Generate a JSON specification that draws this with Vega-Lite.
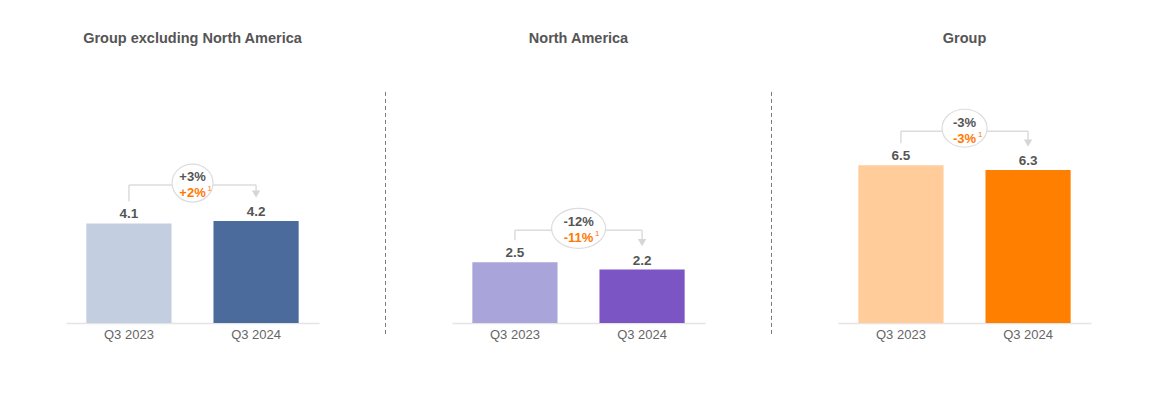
{
  "$schema": "https://vega.github.io/schema/vega-lite/v6.json",
  "padding": {"left": 66, "top": 30, "right": 5, "bottom": 5},
  "background": "white",
  "datasets": {
    "bars": [
      {"panel": "Group excluding North America", "period": "Q3 2023", "value": 4.1},
      {"panel": "Group excluding North America", "period": "Q3 2024", "value": 4.2, "change": "+3%", "changeAdj": "+2%"},
      {"panel": "North America", "period": "Q3 2023", "value": 2.5},
      {"panel": "North America", "period": "Q3 2024", "value": 2.2, "change": "-12%", "changeAdj": "-11%"},
      {"panel": "Group", "period": "Q3 2023", "value": 6.5},
      {"panel": "Group", "period": "Q3 2024", "value": 6.3, "change": "-3%", "changeAdj": "-3%"}
    ]
  },
  "spacing": 65.5,
  "hconcat": [
    {
      "width": 253, "height": 267,
      "title": "Group excluding North America",
      "data": {"name": "bars"},
      "transform": [
        {"filter": "datum.panel === 'Group excluding North America'"},
        {"joinaggregate": [{"op": "max", "field": "value", "as": "top"}]}
      ],
      "encoding": {
        "x": {"field": "period", "type": "nominal", "sort": null, "scale": {"paddingInner": 0.33, "paddingOuter": 0.16}, "axis": {"title": null}}
      },
      "layer": [
        {"transform": [{"filter": "datum.period === 'Q3 2023'"}],
         "mark": {"type": "rule", "color": "#dcdcdc", "strokeWidth": 1.5, "yOffset": -22, "y2Offset": -36},
         "encoding": {"y": {"field": "value", "type": "quantitative", "scale": {"domain": [0, 11]}, "axis": null}, "y2": {"field": "top"}}},
        {"transform": [{"filter": "datum.period === 'Q3 2024'"}],
         "mark": {"type": "rule", "color": "#dcdcdc", "strokeWidth": 1.5, "yOffset": -29, "y2Offset": -36},
         "encoding": {"y": {"field": "value", "type": "quantitative", "scale": {"domain": [0, 11]}, "axis": null}, "y2": {"field": "top"}}},
        {"mark": {"type": "line", "color": "#dcdcdc", "strokeWidth": 1.5, "yOffset": -36},
         "encoding": {"y": {"field": "top", "type": "quantitative", "scale": {"domain": [0, 11]}, "axis": null}}},
        {"transform": [{"filter": "datum.period === 'Q3 2024'"}],
         "mark": {"type": "point", "shape": "triangle-down", "filled": true, "color": "#d6d6d6", "opacity": 1, "size": 70, "yOffset": -27},
         "encoding": {"y": {"field": "value", "type": "quantitative", "scale": {"domain": [0, 11]}, "axis": null}}},
        {"transform": [{"filter": "datum.period === 'Q3 2024'"}],
         "mark": {"type": "point", "shape": "M -2.05 0 A 2.05 1.9 0 1 0 2.05 0 A 2.05 1.9 0 1 0 -2.05 0 Z", "size": 400, "filled": true, "fill": "#ffffff", "stroke": "#dcdcdc", "strokeWidth": 1.2, "opacity": 1, "yOffset": -38},
         "encoding": {"x": {"datum": "Q3 2023", "bandPosition": 1.247, "axis": {"title": null}}, "y": {"field": "top", "type": "quantitative", "scale": {"domain": [0, 11]}, "axis": null}}},
        {"transform": [{"filter": "datum.period === 'Q3 2024'"}],
         "mark": {"type": "text", "baseline": "middle", "fontSize": 13, "fontWeight": "bold", "color": "#555555", "yOffset": -44},
         "encoding": {"x": {"datum": "Q3 2023", "bandPosition": 1.247, "axis": {"title": null}}, "y": {"field": "top", "type": "quantitative", "scale": {"domain": [0, 11]}, "axis": null}, "text": {"field": "change"}}},
        {"transform": [{"filter": "datum.period === 'Q3 2024'"}],
         "mark": {"type": "text", "baseline": "middle", "fontSize": 13, "fontWeight": "bold", "color": "#ff7900", "yOffset": -28},
         "encoding": {"x": {"datum": "Q3 2023", "bandPosition": 1.247, "axis": {"title": null}}, "y": {"field": "top", "type": "quantitative", "scale": {"domain": [0, 11]}, "axis": null}, "text": {"field": "changeAdj"}}},
        {"transform": [{"filter": "datum.period === 'Q3 2024'"}],
         "mark": {"type": "text", "baseline": "middle", "align": "left", "dx": 15, "fontSize": 8, "color": "#ff7900", "yOffset": -32},
         "encoding": {"x": {"datum": "Q3 2023", "bandPosition": 1.247, "axis": {"title": null}}, "y": {"field": "top", "type": "quantitative", "scale": {"domain": [0, 11]}, "axis": null}, "text": {"value": "1"}}},
        {"mark": {"type": "bar"},
         "encoding": {"y": {"field": "value", "type": "quantitative", "scale": {"domain": [0, 11]}, "axis": null},
                      "color": {"condition": {"test": "datum.period === 'Q3 2023'", "value": "#c4cee1"}, "value": "#4a6b9b"}}},
        {"mark": {"type": "text", "baseline": "alphabetic", "dy": -5, "fontSize": 13.5, "fontWeight": "bold", "color": "#555555"},
         "encoding": {"y": {"field": "value", "type": "quantitative", "scale": {"domain": [0, 11]}, "axis": null}, "text": {"field": "value", "type": "quantitative", "format": ".1f"}}}
      ]
    },
    {
      "width": 1, "height": 267,
      "data": {"values": [{}]},
      "mark": {"type": "rule", "color": "#7a7a7a", "strokeWidth": 1, "strokeDash": [4, 3]},
      "encoding": {
        "x": {"datum": 0, "type": "quantitative", "scale": {"domain": [0, 1]}, "axis": null},
        "y": {"datum": -0.45, "type": "quantitative", "scale": {"domain": [0, 11]}, "axis": null},
        "y2": {"datum": 9.52}
      }
    },
    {
      "width": 253, "height": 267,
      "title": "North America",
      "data": {"name": "bars"},
      "transform": [
        {"filter": "datum.panel === 'North America'"},
        {"joinaggregate": [{"op": "max", "field": "value", "as": "top"}]}
      ],
      "encoding": {
        "x": {"field": "period", "type": "nominal", "sort": null, "scale": {"paddingInner": 0.33, "paddingOuter": 0.16}, "axis": {"title": null}}
      },
      "layer": [
        {"transform": [{"filter": "datum.period === 'Q3 2023'"}],
         "mark": {"type": "rule", "color": "#dcdcdc", "strokeWidth": 1.5, "yOffset": -22, "y2Offset": -32},
         "encoding": {"y": {"field": "value", "type": "quantitative", "scale": {"domain": [0, 11]}, "axis": null}, "y2": {"field": "top"}}},
        {"transform": [{"filter": "datum.period === 'Q3 2024'"}],
         "mark": {"type": "rule", "color": "#dcdcdc", "strokeWidth": 1.5, "yOffset": -29, "y2Offset": -32},
         "encoding": {"y": {"field": "value", "type": "quantitative", "scale": {"domain": [0, 11]}, "axis": null}, "y2": {"field": "top"}}},
        {"mark": {"type": "line", "color": "#dcdcdc", "strokeWidth": 1.5, "yOffset": -32},
         "encoding": {"y": {"field": "top", "type": "quantitative", "scale": {"domain": [0, 11]}, "axis": null}}},
        {"transform": [{"filter": "datum.period === 'Q3 2024'"}],
         "mark": {"type": "point", "shape": "triangle-down", "filled": true, "color": "#d6d6d6", "opacity": 1, "size": 70, "yOffset": -27},
         "encoding": {"y": {"field": "value", "type": "quantitative", "scale": {"domain": [0, 11]}, "axis": null}}},
        {"transform": [{"filter": "datum.period === 'Q3 2024'"}],
         "mark": {"type": "point", "shape": "M -2.7 0 A 2.7 2 0 1 0 2.7 0 A 2.7 2 0 1 0 -2.7 0 Z", "size": 400, "filled": true, "fill": "#ffffff", "stroke": "#dcdcdc", "strokeWidth": 1.2, "opacity": 1, "yOffset": -34},
         "encoding": {"x": {"datum": "Q3 2023", "bandPosition": 1.247, "axis": {"title": null}}, "y": {"field": "top", "type": "quantitative", "scale": {"domain": [0, 11]}, "axis": null}}},
        {"transform": [{"filter": "datum.period === 'Q3 2024'"}],
         "mark": {"type": "text", "baseline": "middle", "fontSize": 13, "fontWeight": "bold", "color": "#555555", "yOffset": -40},
         "encoding": {"x": {"datum": "Q3 2023", "bandPosition": 1.247, "axis": {"title": null}}, "y": {"field": "top", "type": "quantitative", "scale": {"domain": [0, 11]}, "axis": null}, "text": {"field": "change"}}},
        {"transform": [{"filter": "datum.period === 'Q3 2024'"}],
         "mark": {"type": "text", "baseline": "middle", "fontSize": 13, "fontWeight": "bold", "color": "#ff7900", "yOffset": -24},
         "encoding": {"x": {"datum": "Q3 2023", "bandPosition": 1.247, "axis": {"title": null}}, "y": {"field": "top", "type": "quantitative", "scale": {"domain": [0, 11]}, "axis": null}, "text": {"field": "changeAdj"}}},
        {"transform": [{"filter": "datum.period === 'Q3 2024'"}],
         "mark": {"type": "text", "baseline": "middle", "align": "left", "dx": 16.5, "fontSize": 8, "color": "#ff7900", "yOffset": -28},
         "encoding": {"x": {"datum": "Q3 2023", "bandPosition": 1.247, "axis": {"title": null}}, "y": {"field": "top", "type": "quantitative", "scale": {"domain": [0, 11]}, "axis": null}, "text": {"value": "1"}}},
        {"mark": {"type": "bar"},
         "encoding": {"y": {"field": "value", "type": "quantitative", "scale": {"domain": [0, 11]}, "axis": null},
                      "color": {"condition": {"test": "datum.period === 'Q3 2023'", "value": "#a9a4d9"}, "value": "#7a55c3"}}},
        {"mark": {"type": "text", "baseline": "alphabetic", "dy": -5, "fontSize": 13.5, "fontWeight": "bold", "color": "#555555"},
         "encoding": {"y": {"field": "value", "type": "quantitative", "scale": {"domain": [0, 11]}, "axis": null}, "text": {"field": "value", "type": "quantitative", "format": ".1f"}}}
      ]
    },
    {
      "width": 1, "height": 267,
      "data": {"values": [{}]},
      "mark": {"type": "rule", "color": "#7a7a7a", "strokeWidth": 1, "strokeDash": [4, 3]},
      "encoding": {
        "x": {"datum": 0, "type": "quantitative", "scale": {"domain": [0, 1]}, "axis": null},
        "y": {"datum": -0.45, "type": "quantitative", "scale": {"domain": [0, 11]}, "axis": null},
        "y2": {"datum": 9.52}
      }
    },
    {
      "width": 253, "height": 267,
      "title": "Group",
      "data": {"name": "bars"},
      "transform": [
        {"filter": "datum.panel === 'Group'"},
        {"joinaggregate": [{"op": "max", "field": "value", "as": "top"}]}
      ],
      "encoding": {
        "x": {"field": "period", "type": "nominal", "sort": null, "scale": {"paddingInner": 0.33, "paddingOuter": 0.16}, "axis": {"title": null}}
      },
      "layer": [
        {"transform": [{"filter": "datum.period === 'Q3 2023'"}],
         "mark": {"type": "rule", "color": "#dcdcdc", "strokeWidth": 1.5, "yOffset": -22, "y2Offset": -34},
         "encoding": {"y": {"field": "value", "type": "quantitative", "scale": {"domain": [0, 11]}, "axis": null}, "y2": {"field": "top"}}},
        {"transform": [{"filter": "datum.period === 'Q3 2024'"}],
         "mark": {"type": "rule", "color": "#dcdcdc", "strokeWidth": 1.5, "yOffset": -29, "y2Offset": -34},
         "encoding": {"y": {"field": "value", "type": "quantitative", "scale": {"domain": [0, 11]}, "axis": null}, "y2": {"field": "top"}}},
        {"mark": {"type": "line", "color": "#dcdcdc", "strokeWidth": 1.5, "yOffset": -34},
         "encoding": {"y": {"field": "top", "type": "quantitative", "scale": {"domain": [0, 11]}, "axis": null}}},
        {"transform": [{"filter": "datum.period === 'Q3 2024'"}],
         "mark": {"type": "point", "shape": "triangle-down", "filled": true, "color": "#d6d6d6", "opacity": 1, "size": 70, "yOffset": -27},
         "encoding": {"y": {"field": "value", "type": "quantitative", "scale": {"domain": [0, 11]}, "axis": null}}},
        {"transform": [{"filter": "datum.period === 'Q3 2024'"}],
         "mark": {"type": "point", "shape": "M -2.25 0 A 2.25 1.9 0 1 0 2.25 0 A 2.25 1.9 0 1 0 -2.25 0 Z", "size": 400, "filled": true, "fill": "#ffffff", "stroke": "#dcdcdc", "strokeWidth": 1.2, "opacity": 1, "yOffset": -37},
         "encoding": {"x": {"datum": "Q3 2023", "bandPosition": 1.247, "axis": {"title": null}}, "y": {"field": "top", "type": "quantitative", "scale": {"domain": [0, 11]}, "axis": null}}},
        {"transform": [{"filter": "datum.period === 'Q3 2024'"}],
         "mark": {"type": "text", "baseline": "middle", "fontSize": 13, "fontWeight": "bold", "color": "#555555", "yOffset": -42},
         "encoding": {"x": {"datum": "Q3 2023", "bandPosition": 1.247, "axis": {"title": null}}, "y": {"field": "top", "type": "quantitative", "scale": {"domain": [0, 11]}, "axis": null}, "text": {"field": "change"}}},
        {"transform": [{"filter": "datum.period === 'Q3 2024'"}],
         "mark": {"type": "text", "baseline": "middle", "fontSize": 13, "fontWeight": "bold", "color": "#ff7900", "yOffset": -26},
         "encoding": {"x": {"datum": "Q3 2023", "bandPosition": 1.247, "axis": {"title": null}}, "y": {"field": "top", "type": "quantitative", "scale": {"domain": [0, 11]}, "axis": null}, "text": {"field": "changeAdj"}}},
        {"transform": [{"filter": "datum.period === 'Q3 2024'"}],
         "mark": {"type": "text", "baseline": "middle", "align": "left", "dx": 13.5, "fontSize": 8, "color": "#ff7900", "yOffset": -30},
         "encoding": {"x": {"datum": "Q3 2023", "bandPosition": 1.247, "axis": {"title": null}}, "y": {"field": "top", "type": "quantitative", "scale": {"domain": [0, 11]}, "axis": null}, "text": {"value": "1"}}},
        {"mark": {"type": "bar"},
         "encoding": {"y": {"field": "value", "type": "quantitative", "scale": {"domain": [0, 11]}, "axis": null},
                      "color": {"condition": {"test": "datum.period === 'Q3 2023'", "value": "#ffcc9a"}, "value": "#ff7f00"}}},
        {"mark": {"type": "text", "baseline": "alphabetic", "dy": -5, "fontSize": 13.5, "fontWeight": "bold", "color": "#555555"},
         "encoding": {"y": {"field": "value", "type": "quantitative", "scale": {"domain": [0, 11]}, "axis": null}, "text": {"field": "value", "type": "quantitative", "format": ".1f"}}}
      ]
    }
  ],
  "resolve": {"scale": {"x": "independent", "y": "independent"}},
  "config": {
    "view": {"stroke": null},
    "font": "Liberation Sans",
    "title": {"fontSize": 14.5, "fontWeight": "bold", "color": "#555555", "offset": 10, "baseline": "alphabetic", "anchor": "middle", "font": "Liberation Sans"},
    "axisX": {"domainColor": "#e4e4e4", "domainWidth": 1.5, "ticks": false, "labelColor": "#666666", "labelFontSize": 13, "labelPadding": 5, "labelAngle": 0, "grid": false, "labelFont": "Liberation Sans"}
  }
}
